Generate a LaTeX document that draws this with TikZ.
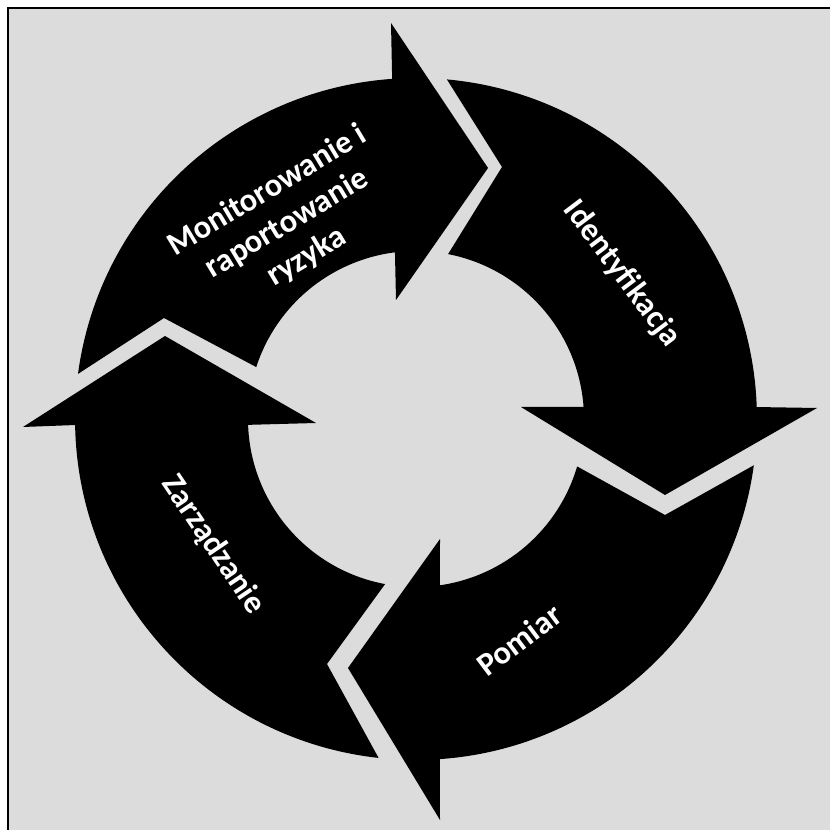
\documentclass[tikz,border=0pt]{standalone}
\usepackage{fontspec}
\setmainfont{Carlito}
\definecolor{cycleGray}{HTML}{DCDCDC}
\definecolor{cycleBlack}{HTML}{000000}

\begin{document}
\begin{tikzpicture}[
    x=0.02cm, y=0.02cm,
    cyclearrow/.style={fill=cycleBlack},
    steplabel/.style={text=white, font=\fontsize{18.5}{22}\selectfont\bfseries,
                      align=center, inner sep=0pt},
  ]
    \useasboundingbox (-416,-411) rectangle (414,419);
    \fill[white] (-416,-411) rectangle (414,419);
    \filldraw[fill=cycleGray, draw=black, line width=0.04cm] (-408,-430) rectangle (430,411);

    \fill[cyclearrow] (172.4:341) arc[start angle=172.4, end angle=94.0, radius=6.82cm]
      -- (-25,396) -- (72,251) -- (-20,119)
      -- (97.2:168) arc[start angle=97.2, end angle=162, radius=3.36cm]
      -- (-252,101) -- cycle;
    \fill[cyclearrow] (84.8:341) arc[start angle=84.8, end angle=2.0, radius=6.82cm]
      -- (401,11) -- (249,-76) -- (105,12)
      -- (4.1:168) arc[start angle=4.1, end angle=79.0, radius=3.36cm]
      -- (86,252) -- cycle;
    \fill[cyclearrow] (-7.8:341) arc[start angle=-7.8, end angle=-86.0, radius=6.82cm]
      -- (24,-401) -- (-68,-249) -- (24,-120)
      -- (-81.8:168) arc[start angle=-81.8, end angle=-16.4, radius=3.36cm]
      -- (249,-96) -- cycle;
    \fill[cyclearrow] (263.7:341) arc[start angle=263.7, end angle=181.0, radius=6.82cm]
      -- (-393,-8) -- (-251,83) -- (-100,-4)
      -- (182.0:168) arc[start angle=182.0, end angle=259.4, radius=3.36cm]
      -- (-89,-245) -- cycle;

    \node[steplabel, rotate=31] (monitor) at (-129,195) {Monitorowanie i\\raportowanie\\ryzyka};
    \node[steplabel, rotate=-53] (ident) at (206,145) {Identyfikacja};
    \node[steplabel, rotate=37] (pomiar) at (103,-221) {Pomiar};
    \node[steplabel, rotate=-56] (zarzadz) at (-203,-126) {Zarządzanie};
  \end{tikzpicture}
\end{document}
